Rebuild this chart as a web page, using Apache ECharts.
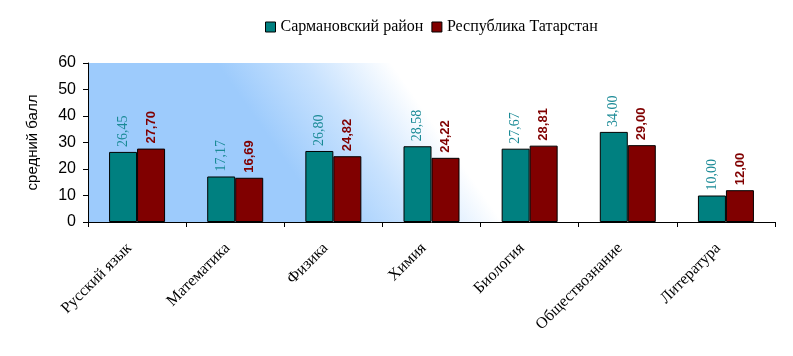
<!DOCTYPE html>
<html><head><meta charset="utf-8">
<script src="https://cdn.jsdelivr.net/npm/echarts@6/dist/echarts.min.js"></script>
<style>html,body{margin:0;padding:0;background:#fff}#c{width:793px;height:356px}</style>
</head><body><div id="c"></div>
<script>
const categories = ['Русский язык','Математика','Физика','Химия','Биология','Обществознание','Литература'];
const seriesNames = ['Сармановский район','Республика Татарстан'];
const sarmanovo = [26.45,17.17,26.80,28.58,27.67,34.00,10.00];
const tatarstan = [27.70,16.69,24.82,24.22,28.81,29.00,12.00];
const yTicks = {min:0,max:60,interval:10};

const chart = echarts.init(document.getElementById('c'));
const fmt = p => p.value.toFixed(2).replace('.', ',');
chart.setOption({
  animation:false,
  backgroundColor:'#fff',
  legend:{
    top:14,left:260,itemWidth:10,itemHeight:10,itemGap:8,icon:'rect',
    textStyle:{fontFamily:'Liberation Serif',fontSize:16,color:'#000'},
    data:seriesNames.map(n=>({name:n,itemStyle:{borderColor:'#000',borderWidth:1}}))
  },
  grid:{left:88,right:18,top:63,bottom:134,show:true,borderWidth:0,
    backgroundColor:{type:'linear',global:true,x:225,y:75,x2:342,y2:-7,
      colorStops:[{offset:0,color:'#9dcbfc'},{offset:0.5,color:'#c8e2fe'},{offset:1,color:'#ffffff'}]}},
  xAxis:{type:'category',data:categories,
    axisLine:{lineStyle:{color:'#000',width:1}},
    axisTick:{show:true,length:5,lineStyle:{color:'#000'}},
    axisLabel:{rotate:45,margin:16,padding:[0,11,0,0],fontFamily:'Liberation Serif',fontSize:16,color:'#000'}},
  yAxis:{type:'value',min:yTicks.min,max:yTicks.max,interval:yTicks.interval,
    name:'средний балл',nameLocation:'middle',nameGap:48,nameRotate:90,
    nameTextStyle:{fontFamily:'Liberation Sans',fontSize:15,color:'#000'},
    axisLine:{show:true,lineStyle:{color:'#000'}},
    axisTick:{show:true,length:5,lineStyle:{color:'#000'}},
    splitLine:{show:false},
    axisLabel:{fontFamily:'Liberation Sans',fontSize:16,color:'#000',margin:12}},
  series:[
    {name:seriesNames[0],type:'bar',data:sarmanovo,barWidth:28,barGap:'0%',
     itemStyle:{color:'#008080',borderColor:'#000',borderWidth:1},
     label:{show:true,position:'top',rotate:90,align:'left',verticalAlign:'middle',distance:5,
       formatter:fmt,fontFamily:'Liberation Serif',fontSize:14,color:'#1a8a96'}},
    {name:seriesNames[1],type:'bar',data:tatarstan,barWidth:28,barGap:'0%',
     itemStyle:{color:'#800000',borderColor:'#000',borderWidth:1},
     label:{show:true,position:'top',rotate:90,align:'left',verticalAlign:'middle',distance:5,
       formatter:fmt,fontFamily:'Liberation Sans',fontWeight:'bold',fontSize:13,color:'#800000'}}
  ]
});
</script></body></html>
